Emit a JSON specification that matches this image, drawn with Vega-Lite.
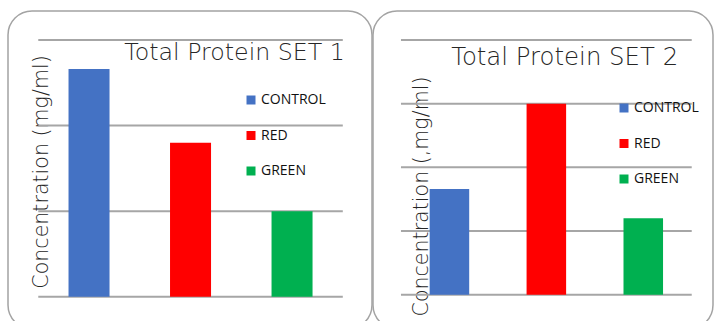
{
  "$schema": "https://vega.github.io/schema/vega-lite/v6.json",
  "background": "white",
  "padding": {"left": 7, "top": 10, "right": 0, "bottom": -7},
  "datasets": {
    "set1": [
      {"group": "CONTROL", "conc": 2.66},
      {"group": "RED", "conc": 1.80},
      {"group": "GREEN", "conc": 1.00}
    ],
    "set2": [
      {"group": "CONTROL", "conc": 1.66},
      {"group": "RED", "conc": 3.00},
      {"group": "GREEN", "conc": 1.20}
    ],
    "grid1": [{"level": 0}, {"level": 1}, {"level": 2}, {"level": 3}],
    "grid2": [{"level": 0}, {"level": 1}, {"level": 2}, {"level": 3}, {"level": 4}]
  },
  "spacing": -1,
  "hconcat": [
    {
      "width": 364,
      "height": 318,
      "layer": [
        {
          "data": {"name": "grid1"},
          "mark": {"type": "rule", "color": "#a6a6a6", "strokeWidth": 2},
          "encoding": {
            "x": {
              "datum": "CONTROL", "type": "nominal", "bandPosition": 0,
              "scale": {"domain": ["CONTROL", "RED", "GREEN"], "paddingInner": 0, "paddingOuter": 0.293, "align": 0.509},
              "axis": null
            },
            "x2": {"datum": "GREEN", "bandPosition": 1},
            "y": {
              "field": "level", "type": "quantitative",
              "scale": {"domain": [-0.377, 3.338], "nice": false, "zero": false},
              "axis": {"title": "Concentration (mg/ml)", "titleX": 39.5, "titleY": 160.5}
            }
          }
        },
        {
          "data": {"name": "set1"},
          "mark": {"type": "bar", "width": {"band": 0.404}},
          "encoding": {
            "x": {"field": "group", "type": "nominal", "axis": null},
            "y": {"field": "conc", "type": "quantitative", "title": "Concentration (mg/ml)"},
            "color": {
              "field": "group", "type": "nominal",
              "scale": {"domain": ["CONTROL", "RED", "GREEN"], "range": ["#4472C4", "#FF0000", "#00B050"]},
              "legend": {"orient": "none", "legendX": 236, "legendY": 82}
            }
          }
        },
        {
          "data": {"values": [{"title": "Total Protein SET 1"}]},
          "mark": {"type": "text", "align": "right", "baseline": "alphabetic", "font": "DejaVu Sans", "fontWeight": 200, "fontSize": 23.7, "color": "#262626"},
          "encoding": {
            "x": {"datum": "GREEN", "type": "nominal", "bandPosition": 1.02},
            "y": {"datum": 2.762, "type": "quantitative"},
            "text": {"field": "title"}
          }
        }
      ]
    },
    {
      "width": 340,
      "height": 318,
      "layer": [
        {
          "data": {"name": "grid2"},
          "mark": {"type": "rule", "color": "#a6a6a6", "strokeWidth": 2},
          "encoding": {
            "x": {
              "datum": "CONTROL", "type": "nominal", "bandPosition": 0,
              "scale": {"domain": ["CONTROL", "RED", "GREEN"], "paddingInner": 0, "paddingOuter": 0.254, "align": 0.568},
              "axis": null
            },
            "x2": {"datum": "GREEN", "bandPosition": 1},
            "y": {
              "field": "level", "type": "quantitative",
              "scale": {"domain": [-0.539, 4.456], "nice": false, "zero": false},
              "axis": {"title": "Concentration (,mg/ml)", "titleX": 54, "titleY": 185}
            }
          }
        },
        {
          "data": {"name": "set2"},
          "mark": {"type": "bar", "width": {"band": 0.408}},
          "encoding": {
            "x": {"field": "group", "type": "nominal", "axis": null},
            "y": {"field": "conc", "type": "quantitative", "title": "Concentration (,mg/ml)"},
            "color": {
              "field": "group", "type": "nominal",
              "scale": {"domain": ["CONTROL", "RED", "GREEN"], "range": ["#4472C4", "#FF0000", "#00B050"]},
              "legend": {"orient": "none", "legendX": 244, "legendY": 90}
            }
          }
        },
        {
          "data": {"values": [{"title": "Total Protein SET 2"}]},
          "mark": {"type": "text", "align": "right", "baseline": "alphabetic", "font": "DejaVu Sans", "fontWeight": 200, "fontSize": 24.4, "color": "#262626"},
          "encoding": {
            "x": {"datum": "GREEN", "type": "nominal", "bandPosition": 0.86},
            "y": {"datum": 3.608, "type": "quantitative"},
            "text": {"field": "title"}
          }
        }
      ]
    }
  ],
  "resolve": {
    "scale": {"x": "independent", "y": "independent", "color": "independent"},
    "legend": {"color": "independent"}
  },
  "config": {
    "view": {"stroke": "#a3a3a3", "strokeWidth": 1.5, "cornerRadius": 24},
    "axisY": {
      "domain": false, "ticks": false, "labels": false, "grid": false,
      "titleFont": "DejaVu Sans", "titleFontWeight": 200, "titleFontSize": 20.6,
      "titleColor": "#262626", "titleBaseline": "alphabetic", "titleAlign": "center", "titleAngle": -90
    },
    "legend": {
      "title": null, "symbolType": "square", "symbolSize": 81, "symbolStrokeWidth": 0,
      "labelFont": "Open Sans", "labelFontSize": 14, "labelColor": "#111111",
      "labelOffset": 3, "rowPadding": 21.5, "padding": 0
    }
  }
}
